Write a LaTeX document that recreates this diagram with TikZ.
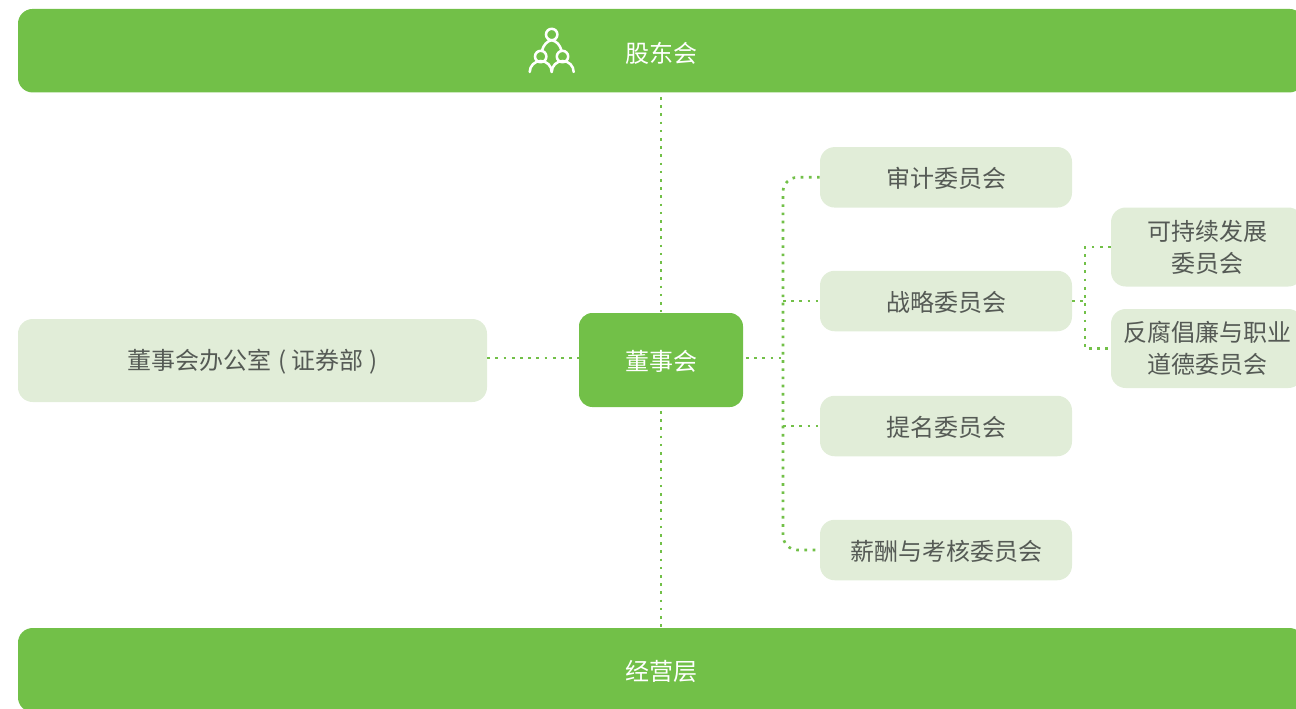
\documentclass[tikz,border=0pt]{standalone}
\usepackage{fontspec}
\setmainfont{Noto Sans CJK SC}
\def\px{0.75pt}
\definecolor{leaf}{HTML}{72C048}
\definecolor{pale}{HTML}{E1EDD8}
\definecolor{ink}{HTML}{555A55}
\tikzset{
  basebox/.style={rectangle,draw=none,inner sep=0pt,rounded corners=11pt,align=center,
    font=\fontsize{18}{24}\selectfont,execute at begin node={\rule{0pt}{16.6pt}}},
  greenbox/.style={basebox,fill=leaf,text=white},
  palebox/.style={basebox,fill=pale,text=ink},
  dotline/.style={draw=leaf,line width=2pt,line cap=butt,dash pattern=on 2pt off 4.15pt},
  icon/.style={draw=white,line width=1.9pt,line cap=round}
}
\begin{document}
\begin{tikzpicture}[x=\px,y=-\px]
\useasboundingbox (0,0) rectangle (1296,708);
\clip (0,0) rectangle (1296,708);
% bars
\node[greenbox,minimum width=1286*\px,minimum height=83.5*\px] (top) at (661,50.7) {};
\node[text=white,inner sep=0pt,font=\fontsize{18}{24}\selectfont] (topt) at (661,53.6) {股东会};
\node[greenbox,minimum width=1286*\px,minimum height=84*\px] (bottom) at (661,670) {经营层};
% centre row
\node[greenbox,rounded corners=10pt,minimum width=164*\px,minimum height=94*\px] (board) at (661,360) {董事会};
\node[palebox,minimum width=469*\px,minimum height=83*\px] (office) at (252.5,360.5) {董事会办公室\hspace{0.8pt} ( 证券部 )};
% committees
\node[palebox,minimum width=252*\px,minimum height=60.5*\px] (audit) at (946,177.3) {审计委员会};
\node[palebox,minimum width=252*\px,minimum height=60.5*\px] (strategy) at (946,301) {战略委员会};
\node[palebox,minimum width=252*\px,minimum height=60.5*\px] (nominate) at (946,426) {提名委员会};
\node[palebox,minimum width=252*\px,minimum height=60.5*\px] (pay) at (946,550) {薪酬与考核委员会};
\node[palebox,minimum width=192*\px,minimum height=79*\px] (sustain) at (1207,247) {可持续发展\\委员会};
\node[palebox,minimum width=192*\px,minimum height=79*\px] (ethics) at (1207,348.5) {反腐倡廉与职业\\道德委员会};
% connectors
\coordinate (hub) at (783,358);
\coordinate (subhub) at (1085,301);
\coordinate (topend) at (661,97);
\coordinate (boardtop) at (661,312);
\coordinate (boardbot) at (661,411);
\draw[dotline] (topend) -- (boardtop);
\draw[dotline] (boardbot) -- (bottom.north);
\draw[dotline] (office.east |- hub) -- (board.west |- hub);
\draw[dotline] ([xshift=2pt]board.east |- hub) -- (hub);
\draw[dotline,rounded corners=11pt] (audit.west) -- (audit.west -| hub) -- (pay.west -| hub) -- (pay.west);
\draw[dotline] (strategy.west -| hub) -- (strategy.west);
\draw[dotline] (nominate.west -| hub) -- (nominate.west);
\draw[dotline] (strategy.east) -- (subhub);
\draw[dotline] (sustain.west) -- (sustain.west -| subhub) -- (ethics.west -| subhub) -- (ethics.west);
% icon
\draw[icon] (551.7,34.5) circle[radius=5.7];
\draw[icon] (540.7,56.5) circle[radius=5.7];
\draw[icon] (562.5,56.5) circle[radius=5.7];
\draw[icon] (529.7,72) arc[start angle=180,end angle=360,radius=11];
\draw[icon] (551.7,72) arc[start angle=180,end angle=360,radius=11];
\draw[icon] (542,50.5) .. controls (543.5,45) and (547,41) .. (551.7,40.2) .. controls (556.5,41) and (560,45) .. (561.5,50.5);
\end{tikzpicture}
\end{document}
